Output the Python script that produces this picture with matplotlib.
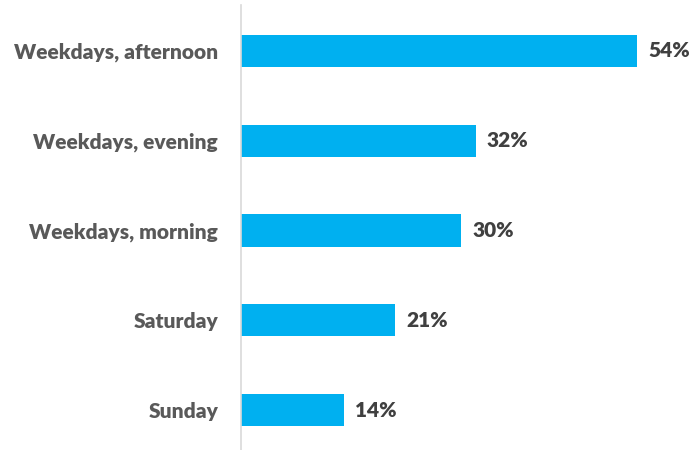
import matplotlib.pyplot as plt

categories = ['Weekdays, afternoon', 'Weekdays, evening', 'Weekdays, morning', 'Saturday', 'Sunday']
values = [54, 32, 30, 21, 14]

plt.rcParams['font.family'] = ['Lato', 'DejaVu Sans']

fig = plt.figure(figsize=(6.91, 4.5), dpi=100)
ax = fig.add_axes([241/691, 0.0, 440/691, 445/450])

ypos = range(len(categories))
ax.barh(ypos, values, height=0.36, color='#00B0F0')
for y, v in zip(ypos, values):
    ax.text(v + 1.5, y, '{0}%'.format(v), va='center', ha='left',
            fontsize=15, fontweight='heavy', color='#404040')

ax.set_xlim(0, 60)
ax.set_ylim(4 + 0.444, -0.511)
ax.set_yticks(list(ypos))
ax.set_yticklabels(categories, fontsize=15, fontweight='heavy', color='#595959')
ax.tick_params(axis='y', length=0, pad=16.5)
ax.set_xticks([])
for s in ['top', 'right', 'bottom']:
    ax.spines[s].set_visible(False)
ax.spines['left'].set_color('#D9D9D9')
ax.spines['left'].set_linewidth(1.2)

fig.savefig('out.png', dpi=100)
